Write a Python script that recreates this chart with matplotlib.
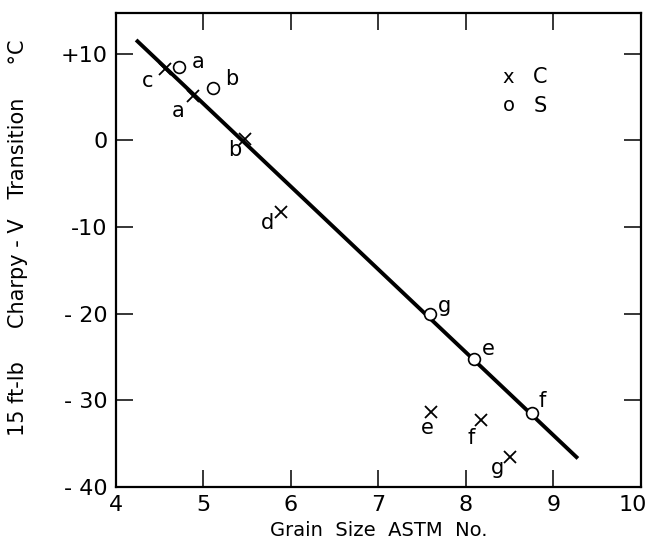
import matplotlib
matplotlib.use("Agg")
import matplotlib.pyplot as plt
import matplotlib.transforms as mtransforms

# Charpy-V 15 ft-lb transition temperature vs ASTM grain size
# C series (crosses)
c_labels = ["c", "a", "b", "d", "e", "f", "g"]
c_grain = [4.56, 4.88, 5.48, 5.89, 7.60, 8.17, 8.50]
c_temp = [8.2, 5.1, 0.2, -8.2, -31.3, -32.3, -36.5]

# S series (open circles)
s_labels = ["a", "b", "g", "e", "f"]
s_grain = [4.72, 5.11, 7.59, 8.09, 8.75]
s_temp = [8.5, 6.0, -20.0, -25.2, -31.5]

# fitted line end points
fit_grain = [4.23, 9.28]
fit_temp = [11.6, -36.7]

xticks = [4, 5, 6, 7, 8, 9, 10]
yticks = [10, 0, -10, -20, -30, -40]
ytick_labels = ["+10", "0", "-10", "- 20", "- 30", "- 40"]

# label offsets in pixels (dx, dy)
c_offsets = [(-17, -12), (-15, -15), (-11, -11), (-14, -11), (-4, -16), (-10, -18), (-12, -11)]
s_offsets = [(19, 5), (19, 9), (14, 8), (15, 10), (11, 12)]

plt.rcParams['font.family'] = ['DejaVu Sans']
fig = plt.figure(figsize=(6.48, 5.53), dpi=100)
ax = fig.add_axes([0.179, 0.1193, 0.81, 0.857])

ax.plot(fit_grain, fit_temp, color="black", lw=2.8, solid_capstyle="butt", zorder=2)
ax.plot(c_grain, c_temp, ls="none", marker="x", ms=8, mew=1.3, color="black", zorder=3)
ax.plot(s_grain, s_temp, ls="none", marker="o", ms=8.5, mew=1.2, mfc="white", mec="black", zorder=4)

for lab, x, y, (dx, dy) in zip(c_labels, c_grain, c_temp, c_offsets):
    ax.annotate(lab, (x, y), xytext=(dx, dy), textcoords="offset pixels",
                ha="center", va="center", fontsize=15)
for lab, x, y, (dx, dy) in zip(s_labels, s_grain, s_temp, s_offsets):
    ax.annotate(lab, (x, y), xytext=(dx, dy), textcoords="offset pixels",
                ha="center", va="center", fontsize=15)

# key
ax.text(0.748, 0.865, "x", transform=ax.transAxes, ha="center", va="center", fontsize=14)
ax.text(0.808, 0.865, "C", transform=ax.transAxes, ha="center", va="center", fontsize=15)
ax.text(0.748, 0.805, "o", transform=ax.transAxes, ha="center", va="center", fontsize=14)
ax.text(0.808, 0.805, "S", transform=ax.transAxes, ha="center", va="center", fontsize=15)

ax.set_xlim(4, 10)
ax.set_ylim(-40, 14.7)
ax.set_xticks(xticks)
ax.set_xticklabels([str(v) for v in xticks])
ax.set_yticks(yticks)
ax.set_yticklabels(ytick_labels)
ax.tick_params(direction="in", length=12, width=1.1, top=True, right=True,
               labelsize=16, pad=6)
for s in ax.spines.values():
    s.set_linewidth(1.6)

# pull the last x label ("10") inside the figure edge
shift = mtransforms.ScaledTranslation(-6 / 72, 0, fig.dpi_scale_trans)
last = ax.get_xticklabels()[-1]
last.set_transform(last.get_transform() + shift)

ax.set_xlabel("Grain  Size  ASTM  No.", fontsize=14, labelpad=4)
fig.text(0.028, 0.57, "15 ft-lb     Charpy - V   Transition     \u00b0C", rotation=90,
         ha="center", va="center", fontsize=15)

fig.savefig("out.png", dpi=100)
